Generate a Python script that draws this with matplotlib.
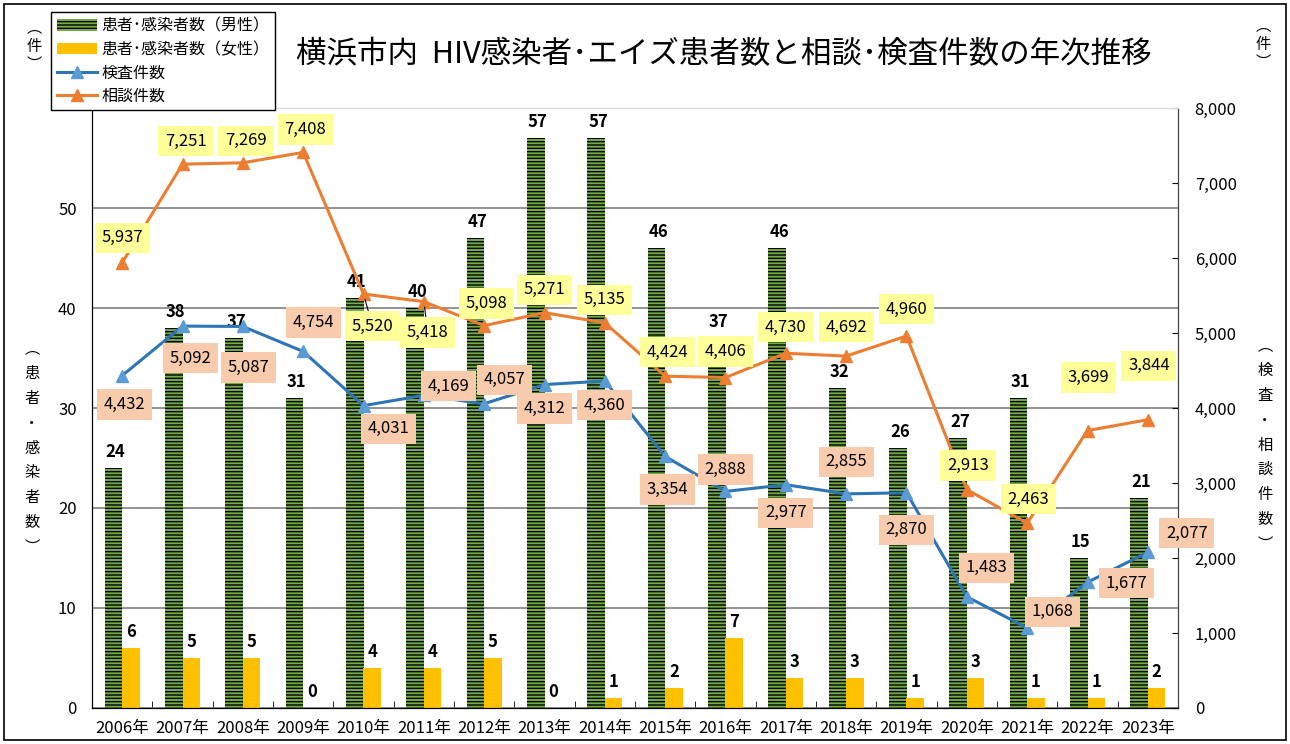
import numpy as np
import matplotlib.pyplot as plt
from matplotlib.patches import Rectangle

plt.rcParams['font.family'] = ['Noto Sans CJK JP', 'DejaVu Sans']
plt.rcParams['hatch.linewidth'] = 1.0
plt.rcParams['hatch.color'] = 'black'

years = ['2006年', '2007年', '2008年', '2009年', '2010年', '2011年', '2012年', '2013年', '2014年',
         '2015年', '2016年', '2017年', '2018年', '2019年', '2020年', '2021年', '2022年', '2023年']
male = [24, 38, 37, 31, 41, 40, 47, 57, 57, 46, 37, 46, 32, 26, 27, 31, 15, 21]
female = [6, 5, 5, 0, 4, 4, 5, 0, 1, 2, 7, 3, 3, 1, 3, 1, 1, 2]
tests = [4432, 5092, 5087, 4754, 4031, 4169, 4057, 4312, 4360, 3354, 2888, 2977, 2855, 2870, 1483, 1068, 1677, 2077]
consults = [5937, 7251, 7269, 7408, 5520, 5418, 5098, 5271, 5135, 4424, 4406, 4730, 4692, 4960, 2913, 2463, 3699, 3844]

# where the value boxes sit relative to their point (pixels)
cons_dx = [0, 3, 3, 2, 9, 4, 2, 0, 0, 2, 0, 0, 0, 0, 1, 1, 1, 1]
cons_dy = [25, 23, 22, 23, -32, -31, 22, 23, 23, 24, 26, 26, 29, 27, 24, 24, 53, 54]
test_dx = [2, 8, 6, 10, 25, 25, 20, 0, 0, 2, 0, 0, 0, 0, 20, 25, 39, 39]
test_dy = [-29, -32, -41, 29, -23, 9, 24, -24, -24, -33, 22, -28, 32, -37, 29, 16, -1, 19]

fig = plt.figure(figsize=(12.9, 7.44), dpi=100)
ax = fig.add_axes([92 / 1290, 1 - 708 / 744, (1178 - 92) / 1290, 600 / 744])

x = np.arange(len(years))
w = 0.29

b1 = ax.bar(x - w / 2, male, w, facecolor='#70AD47', edgecolor='black', hatch='-----', linewidth=0,
            label='患者･感染者数（男性）')
b2 = ax.bar(x + w / 2, female, w, color='#FFC000', label='患者･感染者数（女性）')

for i in range(len(x)):
    if male[i] > 0:
        ax.annotate(str(male[i]), (x[i] - w / 2, male[i]), xytext=(2, 7), textcoords='offset pixels',
                    ha='center', va='bottom', fontsize=12, fontweight='bold')
    ax.annotate(str(female[i]), (x[i] + w / 2, female[i]), xytext=(0, 7), textcoords='offset pixels',
                ha='center', va='bottom', fontsize=12, fontweight='bold')

ax.set_xlim(-0.5, len(x) - 0.5)
ax.set_ylim(0, 60)
ax.set_yticks(range(0, 60, 10))
ax.set_xticks(x, years)
ax.set_xticks(np.arange(-0.5, len(x), 1), minor=True)
ax.tick_params(axis='x', which='major', length=0, pad=9, labelsize=12)
ax.tick_params(axis='x', which='minor', direction='in', length=5)
ax.tick_params(axis='y', length=0, pad=11, labelsize=12)
ax.grid(axis='y', color='#808080', lw=1.2)
ax.set_axisbelow(True)

ax2 = ax.twinx()
l1, = ax2.plot(x, tests, color='#2E75B6', lw=2.2, marker='^', ms=9, mfc='#5B9BD5', mec='#5B9BD5',
               label='検査件数')
l2, = ax2.plot(x, consults, color='#ED7D31', lw=2.2, marker='^', ms=9, label='相談件数')
ax2.set_ylim(0, 8000)
ax2.set_yticks(range(0, 8001, 1000))
ax2.yaxis.set_major_formatter('{x:,.0f}')
ax2.tick_params(axis='y', direction='in', length=4, pad=12, labelsize=12)

for i in range(len(x)):
    ap = None
    if i in (4, 5):
        ap = dict(arrowstyle='-', color='black', lw=0.8, shrinkA=0, shrinkB=4)
    ax2.annotate(f'{consults[i]:,}', (x[i], consults[i]), xytext=(cons_dx[i], cons_dy[i]),
                 textcoords='offset pixels', ha='center', va='center', fontsize=12,
                 bbox=dict(boxstyle='square,pad=0.4', fc='#FFFF99', ec='none'), arrowprops=ap)
    ax2.annotate(f'{tests[i]:,}', (x[i], tests[i]), xytext=(test_dx[i], test_dy[i]),
                 textcoords='offset pixels', ha='center', va='center', fontsize=12,
                 bbox=dict(boxstyle='square,pad=0.4', fc='#F8CBAD', ec='none'))

for a in (ax, ax2):
    a.spines['top'].set_color('#D9D9D9')
    a.spines['left'].set_color('black')
    a.spines['bottom'].set_color('black')
    a.spines['right'].set_color('#404040')

fig.text(724 / 1290, 1 - 55 / 744, '横浜市内  HIV感染者･エイズ患者数と相談･検査件数の年次推移',
         ha='center', va='center', fontsize=22)

fig.text(34 / 1290, 1 - 46 / 744, '︵\n件\n︶', ha='center', va='center', fontsize=11, linespacing=1.1)
fig.text(1263 / 1290, 1 - 44 / 744, '︵\n件\n︶', ha='center', va='center', fontsize=11, linespacing=1.1)
fig.text(32 / 1290, 1 - 448 / 744, '\n'.join('︵患者・感染者数︶'), ha='center', va='center',
         fontsize=11, linespacing=1.6)
fig.text(1265 / 1290, 1 - 445 / 744, '\n'.join('︵検査・相談件数︶'), ha='center', va='center',
         fontsize=11, linespacing=1.6)

fig.legend(handles=[b1, b2, l1, l2], loc='upper left', bbox_to_anchor=(51 / 1290, 1 - 12 / 744),
           fontsize=11.5, frameon=True, fancybox=False, edgecolor='black', framealpha=1,
           handlelength=2.5, labelspacing=0.4, borderpad=0.35, handletextpad=0.3, borderaxespad=0)

fig.patches.append(Rectangle((0.003, 0.005), 0.994, 0.99, transform=fig.transFigure,
                             fill=False, ec='black', lw=1.2))

fig.savefig('out.png', dpi=100)
